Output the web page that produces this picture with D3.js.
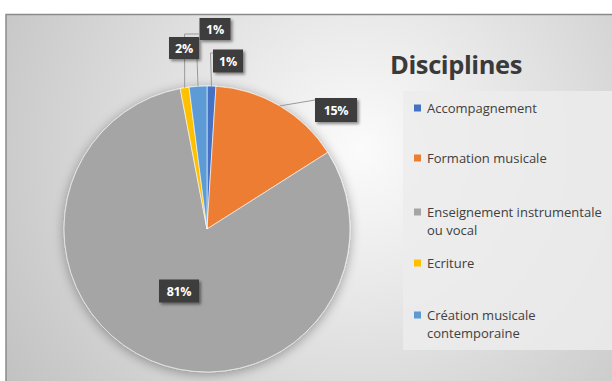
<!DOCTYPE html>
<html>
<head>
<meta charset="utf-8">
<script src="https://cdn.jsdelivr.net/npm/d3@7"></script>
<style>
  html, body { margin: 0; padding: 0; background: #ffffff; }
  svg { display: block; }
  text { font-family: "Open Sans", Lato, sans-serif; }
</style>
</head>
<body>
<svg id="chart" width="612" height="381"></svg>
<script>
// Share of each discipline (percent)
const categories = ["Accompagnement", "Formation musicale", "Enseignement instrumentale ou vocal", "Ecriture", "Création musicale contemporaine"];
const values = [1, 15, 81, 1, 2];
const colors = ["#4472C4", "#ED7D31", "#A5A5A5", "#FFC000", "#5B9BD5"];
const legendLines = [["Accompagnement"], ["Formation musicale"], ["Enseignement instrumentale", "ou vocal"], ["Ecriture"], ["Création musicale", "contemporaine"]];
const chartTitle = "Disciplines";

const W = 612, H = 381;
const svg = d3.select("#chart");
const defs = svg.append("defs");

// background shading
const bg = defs.append("radialGradient").attr("id", "bgGrad")
  .attr("gradientUnits", "userSpaceOnUse")
  .attr("cx", 360).attr("cy", 150).attr("r", 420);
bg.append("stop").attr("offset", "0").attr("stop-color", "#fbfbfb");
bg.append("stop").attr("offset", "0.4").attr("stop-color", "#e5e5e5");
bg.append("stop").attr("offset", "1").attr("stop-color", "#c2c2c2");

const shadow = defs.append("filter").attr("id", "pieShadow")
  .attr("x", "-20%").attr("y", "-20%").attr("width", "140%").attr("height", "140%");
shadow.append("feGaussianBlur").attr("in", "SourceAlpha").attr("stdDeviation", 6).attr("result", "b");
shadow.append("feOffset").attr("in", "b").attr("dx", 0).attr("dy", 2).attr("result", "o");
shadow.append("feComponentTransfer").attr("in", "o").attr("result", "s")
  .append("feFuncA").attr("type", "linear").attr("slope", 0.35);
const m = shadow.append("feMerge");
m.append("feMergeNode").attr("in", "s");
m.append("feMergeNode").attr("in", "SourceGraphic");

const boxShadow = defs.append("filter").attr("id", "boxShadow")
  .attr("x", "-30%").attr("y", "-30%").attr("width", "170%").attr("height", "170%");
boxShadow.append("feGaussianBlur").attr("in", "SourceAlpha").attr("stdDeviation", 1.5).attr("result", "b");
boxShadow.append("feOffset").attr("in", "b").attr("dx", 2).attr("dy", 2).attr("result", "o");
boxShadow.append("feComponentTransfer").attr("in", "o").attr("result", "s")
  .append("feFuncA").attr("type", "linear").attr("slope", 0.45);
const m2 = boxShadow.append("feMerge");
m2.append("feMergeNode").attr("in", "s");
m2.append("feMergeNode").attr("in", "SourceGraphic");

// frame
svg.append("rect").attr("x", 6).attr("y", 14).attr("width", W).attr("height", H)
  .attr("fill", "url(#bgGrad)");
svg.append("path").attr("d", `M6,${H} V14.5 H${W}`)
  .attr("fill", "none").attr("stroke", "#8a8a8a").attr("stroke-width", 1.5);

// legend panel
svg.append("rect").attr("x", 403).attr("y", 91).attr("width", W - 403).attr("height", 259)
  .attr("fill", "#ececec").attr("opacity", 0.85);

// pie
const cx = 207, cy = 229, R = 143;
const pie = d3.pie().sort(null).value(d => d.value);
const arcs = pie(categories.map((c, i) => ({ name: c, value: values[i], color: colors[i] })));
const arc = d3.arc().innerRadius(0).outerRadius(R);
const rim = d3.arc().innerRadius(R).outerRadius(R);

const g = svg.append("g").attr("transform", `translate(${cx},${cy})`);
g.append("g").attr("filter", "url(#pieShadow)")
  .selectAll("path").data(arcs).join("path")
  .attr("d", arc)
  .attr("fill", d => d.data.color)
  .attr("stroke", "#ffffff").attr("stroke-width", 0.6);

// data labels: box centre relative to pie centre, plus leader bend
const labelPlacement = {
  "Accompagnement": { x: 21, y: -168, w: 30, h: 23, leader: (p) => [[p[0], p[1]], [p[0] - 1, -176], [6, -176]] },
  "Formation musicale": { x: 129, y: -119, w: 42, h: 24, leader: (p) => [[p[0], p[1]], [108, -129]] },
  "Enseignement instrumentale ou vocal": { x: -28, y: 62, w: 40, h: 23, leader: null },
  "Ecriture": { x: 8, y: -200, w: 31, h: 22, leader: (p) => [[p[0], p[1]], [p[0], -195], [-8, -195]] },
  "Création musicale contemporaine": { x: -23, y: -181, w: 30, h: 22, leader: (p) => [[p[0], p[1]], [-10, -171]] }
};

const lineGen = d3.line();
// leader lines first so boxes sit on top
arcs.forEach(a => {
  const pl = labelPlacement[a.data.name];
  if (pl.leader) {
    const p = rim.centroid(a);
    g.append("path").attr("d", lineGen(pl.leader(p)))
      .attr("fill", "none").attr("stroke", "#9a9a9a").attr("stroke-width", 1);
  }
});
const fmt = d3.format(".0%");
const total = d3.sum(values);
// draw the crowded small labels in stacking order
const order = [0, 1, 2, 4, 3];
order.forEach(i => {
  const a = arcs[i];
  const pl = labelPlacement[a.data.name];
  const lg = g.append("g").attr("transform", `translate(${pl.x},${pl.y})`);
  lg.append("rect").attr("x", -pl.w / 2).attr("y", -pl.h / 2)
    .attr("width", pl.w).attr("height", pl.h)
    .attr("fill", "#3d3d3d").attr("filter", "url(#boxShadow)");
  lg.append("text").attr("text-anchor", "middle").attr("dy", "0.36em")
    .attr("fill", "#ffffff").attr("font-weight", "bold").attr("font-size", 12.5)
    .attr("letter-spacing", -0.3)
    .text(fmt(a.data.value / total));
});

// title
svg.append("text").attr("x", 390).attr("y", 74)
  .attr("font-size", 25.5).attr("font-weight", "bold").attr("fill", "#3a3a3a")
  .attr("letter-spacing", -0.4)
  .text(chartTitle);

// legend
const legendY = [108, 158, 212, 263, 315];
const leg = svg.append("g");
legendLines.forEach((lines, i) => {
  leg.append("rect").attr("x", 414).attr("y", legendY[i] - 3.5)
    .attr("width", 7).attr("height", 7).attr("fill", colors[i]);
  const t = leg.append("text").attr("x", 427).attr("y", legendY[i])
    .attr("font-size", 13).attr("fill", "#404040");
  lines.forEach((ln, j) => {
    t.append("tspan").attr("x", 427).attr("dy", j === 0 ? "0.35em" : 18).text(ln);
  });
});
</script>
</body>
</html>
